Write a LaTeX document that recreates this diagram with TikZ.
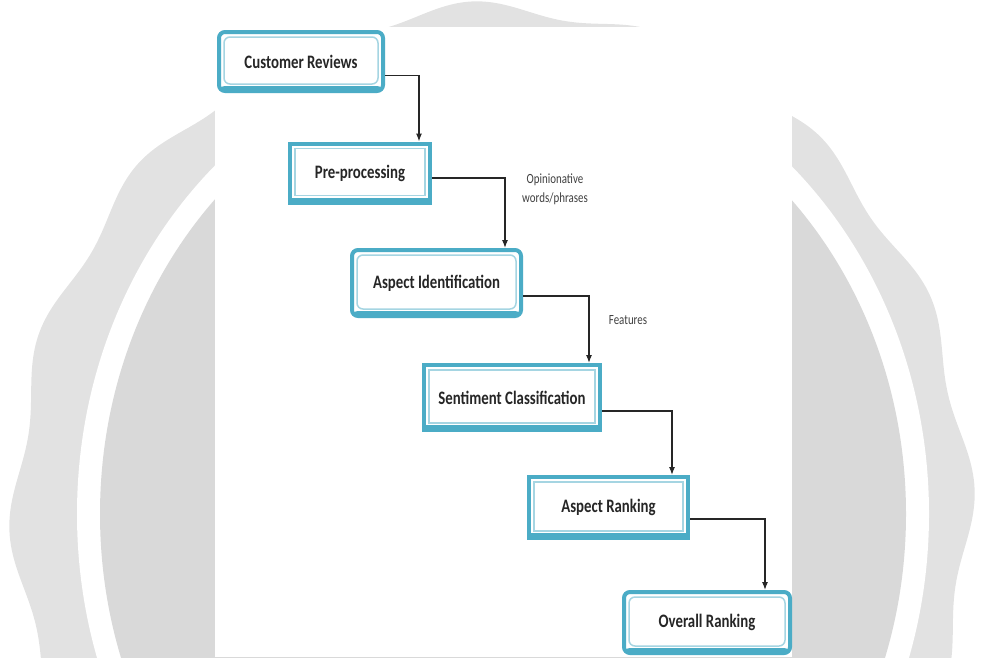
\documentclass[tikz,border=0pt]{standalone}
\usepackage{fontspec}
\setmainfont{Carlito}
\newfontfamily\stagefont{Carlito}[FakeStretch=0.78]
\usetikzlibrary{arrows.meta}
\definecolor{sealouter}{HTML}{E2E2E2}
\definecolor{sealinner}{HTML}{D9D9D9}
\definecolor{stageblue}{HTML}{4BACC6}
\definecolor{stagelight}{HTML}{A5D5E2}
\tikzset{
  stage/.style={draw=stageblue, line width=4pt, fill=white, minimum height=59pt, inner sep=0pt,
    font=\stagefont\bfseries\fontsize{19}{22}\selectfont, text=black!85,
    path picture={
      \fill[stageblue] (path picture bounding box.south west) rectangle ([yshift=5pt]path picture bounding box.south east);
      \draw[stagelight, line width=1.5pt] ([shift={(5pt,-5pt)}]path picture bounding box.north west) rectangle ([shift={(-5pt,7pt)}]path picture bounding box.south east);
    }},
  roundstage/.style={stage, rounded corners=6pt},
  flow/.style={->, line width=1.2pt, black!85},
  note/.style={font=\stagefont\fontsize{14}{19}\selectfont, text=black!75, align=center}
}
\begin{document}
\begin{tikzpicture}[x=1pt, y=-1pt, >={Latex[length=8pt,width=6pt]}]
    \useasboundingbox (0,0) rectangle (984,657);
    \clip (0,0) rectangle (984,657);
    \fill[sealouter] plot[domain=0:360, samples=361, smooth] ({492+(476+7*cos(16*\x+37))*cos(\x)}, {510+(502+7*cos(16*\x+37))*sin(\x)}) -- cycle;
    \fill[white] (503,514) ellipse [x radius=426, y radius=473];
    \fill[sealinner] (503,514) ellipse [x radius=403, y radius=450];
    \fill[white] (215,27) rectangle (792,657);

    \node[roundstage, minimum width=164pt] (reviews) at (301,61.5) {Customer Reviews};
    \node[stage, minimum width=140pt] (preproc) at (360,173) {Pre-processing};
    \node[roundstage, minimum width=169pt, minimum height=66pt] (aspectid) at (436.5,283) {Aspect Identification};
    \node[stage, minimum width=176pt, minimum height=65pt] (sentiment) at (512,397.5) {Sentiment Classification};
    \node[stage, minimum width=159pt, minimum height=61pt] (aspectrank) at (608.5,507.5) {Aspect Ranking};
    \node[roundstage, minimum width=166pt, minimum height=61pt] (overall) at (707,622.5) {Overall Ranking};

    \node[note] (opinion) at (555,189) {Opinionative\\words/phrases};
    \node[note] (features) at (628,320) {Features};

    \draw[flow] ([yshift=-14pt]reviews.east) -| ([xshift=-13pt]preproc.north east);
    \draw[flow] ([yshift=-5pt]preproc.east) -| ([xshift=-18pt]aspectid.north east);
    \draw[flow] ([yshift=-13pt]aspectid.east) -| ([xshift=-13pt]sentiment.north east);
    \draw[flow] ([yshift=-13.5pt]sentiment.east) -| ([xshift=-18pt]aspectrank.north east);
    \draw[flow] ([yshift=-11.5pt]aspectrank.east) -| ([xshift=-27pt]overall.north east);
\end{tikzpicture}
\end{document}
